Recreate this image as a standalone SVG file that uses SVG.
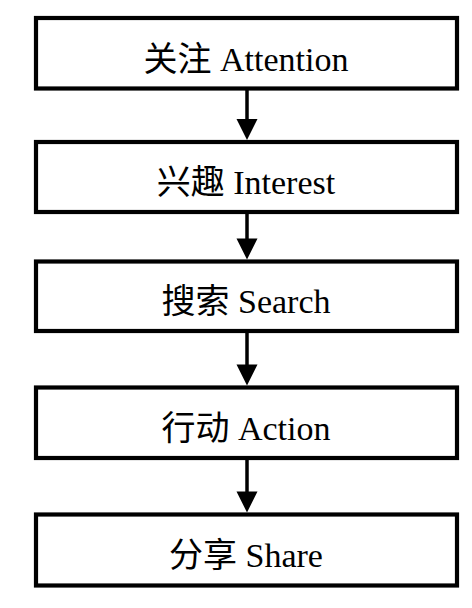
<svg xmlns="http://www.w3.org/2000/svg" width="472" height="608" viewBox="0 0 472 608">
<style>
.box{fill:#fff;stroke:#000;stroke-width:4.2}
.lbl{font-family:"Liberation Serif","Noto Sans CJK SC",serif;font-size:34px;fill:#000;text-anchor:middle}
.ln{stroke:#000;stroke-width:3.5;fill:none}
.hd{fill:#000}
</style>
<rect width="472" height="608" fill="#fff"/>
<g id="connectors">
<line class="ln" x1="247" y1="90" x2="247" y2="122"/><polygon class="hd" points="236.5,119 257.5,119 247,140"/>
<line class="ln" x1="247" y1="214" x2="247" y2="241"/><polygon class="hd" points="236.5,238.5 257.5,238.5 247,259.5"/>
<line class="ln" x1="247" y1="333" x2="247" y2="367"/><polygon class="hd" points="236.5,364.5 257.5,364.5 247,385.5"/>
<line class="ln" x1="247" y1="460" x2="247" y2="494"/><polygon class="hd" points="236.5,491.5 257.5,491.5 247,512.5"/>
</g>
<g id="n1"><rect class="box" x="36" y="18" width="421" height="70.5"/><text class="lbl" x="246" y="71">关注 Attention</text></g>
<g id="n2"><rect class="box" x="36" y="142" width="421" height="70"/><text class="lbl" x="246" y="194">兴趣 Interest</text></g>
<g id="n3"><rect class="box" x="36" y="261.5" width="421" height="69.5"/><text class="lbl" x="246" y="313">搜索 Search</text></g>
<g id="n4"><rect class="box" x="36" y="387.5" width="421" height="70.5"/><text class="lbl" x="246" y="439.5">行动 Action</text></g>
<g id="n5"><rect class="box" x="36" y="514.5" width="421" height="71"/><text class="lbl" x="246" y="567">分享 Share</text></g>
</svg>
